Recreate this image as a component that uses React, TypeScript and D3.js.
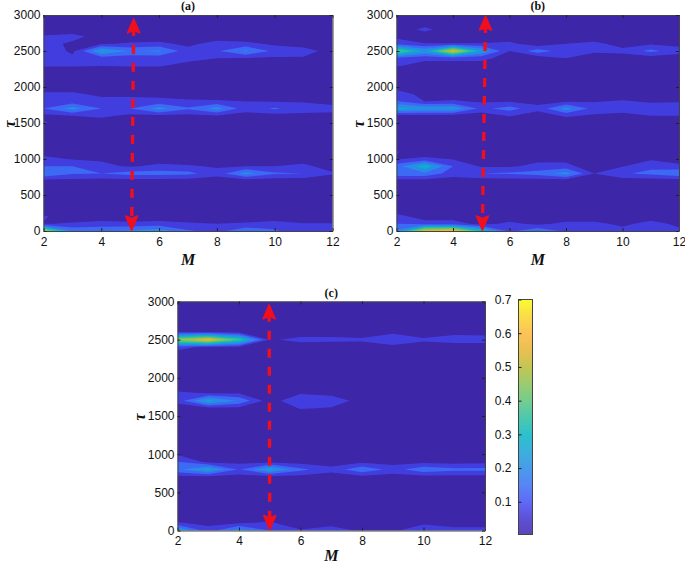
import { useEffect, useRef } from 'react'
import * as d3 from 'd3'

type Rows = Record<number, number[]>

const mValues = [2, 3, 4, 5, 6, 7, 8, 9, 10, 11, 12]
const tauGrid = d3.range(0, 3100, 100)
const xTicks = [2, 4, 6, 8, 10, 12]
const yTicks = [0, 500, 1000, 1500, 2000, 2500, 3000]
const barTicks = [0.1, 0.2, 0.3, 0.4, 0.5, 0.6, 0.7]
const levels = [0.07, 0.14, 0.21, 0.28, 0.35, 0.42, 0.49, 0.56, 0.63]
const baseValue = 0.02

// values per tau row, one for each M, rows not listed stay at baseValue
const rowsA: Rows = {
  2700: [0.08, 0.1, 0.03, 0.02, 0.02, 0.02, 0.03, 0.02, 0.02, 0.02, 0.02],
  2600: [0.11, 0.05, 0.06, 0.08, 0.09, 0.05, 0.1, 0.09, 0.055, 0.05, 0.03],
  2500: [0.14, 0.05, 0.29, 0.2, 0.22, 0.1, 0.13, 0.22, 0.12, 0.09, 0.05],
  2400: [0.09, 0.09, 0.1, 0.1, 0.09, 0.1, 0.07, 0.065, 0.06, 0.065, 0.02],
  2300: [0.08, 0.08, 0.075, 0.08, 0.08, 0.04, 0.02, 0.02, 0.02, 0.02, 0.02],
  1900: [0.09, 0.09, 0.05, 0.05, 0.05, 0.04, 0.03, 0.03, 0.03, 0.03, 0.02],
  1800: [0.1, 0.1, 0.1, 0.1, 0.09, 0.08, 0.08, 0.07, 0.065, 0.065, 0.05],
  1700: [0.14, 0.24, 0.14, 0.14, 0.24, 0.15, 0.24, 0.1, 0.15, 0.1, 0.09],
  1600: [0.05, 0.07, 0.09, 0.05, 0.05, 0.05, 0.06, 0.04, 0.04, 0.05, 0.05],
  1500: [0.08, 0.02, 0.02, 0.02, 0.02, 0.02, 0.02, 0.02, 0.02, 0.02, 0.02],
  1100: [0.04, 0.02, 0.02, 0.02, 0.02, 0.02, 0.02, 0.02, 0.02, 0.02, 0.02],
  1000: [0.09, 0.065, 0.06, 0.02, 0.03, 0.02, 0.02, 0.02, 0.02, 0.03, 0.01],
  900: [0.14, 0.14, 0.09, 0.06, 0.09, 0.08, 0.06, 0.07, 0.07, 0.09, 0.03],
  800: [0.22, 0.15, 0.14, 0.17, 0.17, 0.16, 0.1, 0.24, 0.15, 0.14, 0.08],
  700: [0.04, 0.045, 0.04, 0.04, 0.04, 0.04, 0.03, 0.03, 0.03, 0.03, 0.02],
  200: [0.08, 0.02, 0.02, 0.02, 0.02, 0.02, 0.02, 0.02, 0.02, 0.02, 0.02],
  100: [0.065, 0.08, 0.1, 0.09, 0.1, 0.08, 0.07, 0.08, 0.1, 0.075, 0.075],
  0: [0.55, 0.2, 0.2, 0.22, 0.25, 0.15, 0.11, 0.2, 0.15, 0.09, 0.09],
}

const rowsB: Rows = {
  2800: [0.02, 0.09, 0.02, 0.02, 0.02, 0.02, 0.02, 0.02, 0.02, 0.02, 0.02],
  2700: [0.05, 0.02, 0.02, 0.02, 0.02, 0.02, 0.02, 0.02, 0.02, 0.02, 0.02],
  2600: [0.12, 0.075, 0.075, 0.075, 0.09, 0.02, 0.07, 0.09, 0.04, 0.06, 0.05],
  2500: [0.45, 0.27, 0.6, 0.28, 0.07, 0.18, 0.1, 0.08, 0.09, 0.16, 0.1],
  2400: [0.12, 0.09, 0.09, 0.09, 0.04, 0.02, 0.07, 0.04, 0.03, 0.03, 0.03],
  2300: [0.08, 0.04, 0.04, 0.04, 0.02, 0.02, 0.02, 0.02, 0.02, 0.02, 0.02],
  2000: [0.05, 0.02, 0.02, 0.02, 0.02, 0.02, 0.02, 0.02, 0.02, 0.02, 0.02],
  1900: [0.1, 0.05, 0.03, 0.02, 0.02, 0.02, 0.02, 0.02, 0.02, 0.02, 0.02],
  1800: [0.15, 0.07, 0.08, 0.06, 0.065, 0.05, 0.06, 0.065, 0.08, 0.06, 0.065],
  1700: [0.3, 0.27, 0.27, 0.12, 0.17, 0.09, 0.24, 0.11, 0.11, 0.11, 0.11],
  1600: [0.04, 0.045, 0.04, 0.03, 0.075, 0.035, 0.08, 0.06, 0.04, 0.07, 0.07],
  1100: [0.075, 0.02, 0.02, 0.02, 0.02, 0.02, 0.02, 0.02, 0.02, 0.02, 0.02],
  1000: [0.065, 0.09, 0.065, 0.02, 0.02, 0.05, 0.05, 0.01, 0.02, 0.06, 0.03],
  900: [0.18, 0.33, 0.14, 0.06, 0.06, 0.09, 0.09, 0.03, 0.065, 0.12, 0.09],
  800: [0.2, 0.2, 0.1, 0.14, 0.15, 0.17, 0.24, 0.07, 0.13, 0.16, 0.2],
  700: [0.04, 0.04, 0.04, 0.035, 0.035, 0.035, 0.035, 0.02, 0.035, 0.035, 0.035],
  200: [0.1, 0.03, 0.03, 0.01, 0.02, 0.01, 0.02, 0.02, 0.01, 0.03, 0.01],
  100: [0.14, 0.11, 0.11, 0.04, 0.09, 0.05, 0.09, 0.09, 0.05, 0.1, 0.05],
  0: [0.22, 0.6, 0.65, 0.35, 0.12, 0.2, 0.12, 0.1, 0.1, 0.14, 0.09],
}

const rowsC: Rows = {
  2600: [0.065, 0.065, 0.05, 0.01, 0.03, 0.03, 0.02, 0.05, 0.02, 0.05, 0.045],
  2500: [0.5, 0.62, 0.4, 0.06, 0.09, 0.09, 0.085, 0.14, 0.085, 0.1, 0.1],
  2400: [0.1, 0.045, 0.045, 0.01, 0.03, 0.02, 0.02, 0.04, 0.02, 0.03, 0.03],
  1900: [0.03, 0.02, 0.02, 0.02, 0.02, 0.02, 0.02, 0.02, 0.02, 0.02, 0.02],
  1800: [0.08, 0.065, 0.065, 0.01, 0.06, 0.055, 0.01, 0.01, 0.01, 0.01, 0.01],
  1700: [0.1, 0.3, 0.2, 0.03, 0.14, 0.1, 0.05, 0.02, 0.02, 0.02, 0.02],
  1600: [0.02, 0.045, 0.05, 0.01, 0.075, 0.065, 0.01, 0.01, 0.01, 0.01, 0.01],
  1000: [0.06, 0.02, 0.02, 0.02, 0.02, 0.02, 0.02, 0.02, 0.02, 0.02, 0.02],
  900: [0.14, 0.05, 0.05, 0.05, 0.04, 0.04, 0.05, 0.04, 0.05, 0.04, 0.05],
  800: [0.2, 0.3, 0.13, 0.3, 0.16, 0.09, 0.2, 0.11, 0.19, 0.16, 0.16],
  700: [0.04, 0.04, 0.04, 0.03, 0.04, 0.04, 0.04, 0.04, 0.04, 0.04, 0.04],
  100: [0.075, 0.05, 0.06, 0.08, 0.01, 0.03, 0.01, 0.01, 0.05, 0.03, 0.03],
  0: [0.3, 0.1, 0.25, 0.14, 0.08, 0.12, 0.05, 0.05, 0.14, 0.1, 0.1],
}

// colormap, one stop every 0.05
const colorStops = ['#3e26a8', '#4232d0', '#4450f5', '#3a70f5', '#2a8ae8', '#1aa2d8', '#08b6c4', '#2dbfa0', '#5cc47c', '#88c458', '#b8bc34', '#e5b535', '#fdb83c', '#f8d52a', '#f9fb0e']
const colorOf = d3.scaleLinear<string>().domain(d3.range(0, 0.701, 0.05)).range(colorStops).interpolate(d3.interpolateRgb).clamp(true)

interface Panel {
  id: string
  title: string
  rows: Rows
  x: [number, number]
  y: [number, number]
  arrowM: [number, number]
  arrowTau: [number, number]
  labelY: number
  tauX: number
}

const panels: Panel[] = [
  { id: 'a', title: '(a)', rows: rowsA, x: [43.5, 332.5], y: [231, 15], arrowM: [5.12, 5.05], arrowTau: [2960, 0], labelY: 264.5, tauX: 14.5 },
  { id: 'b', title: '(b)', rows: rowsB, x: [396.5, 679], y: [231, 15], arrowM: [5.15, 5.04], arrowTau: [3000, 0], labelY: 264.5, tauX: 364 },
  { id: 'c', title: '(c)', rows: rowsC, x: [177.5, 485], y: [530.5, 301.5], arrowM: [4.98, 5], arrowTau: [2970, 0], labelY: 561, tauX: 145 },
]

const sans = '"Liberation Sans", Arial, sans-serif'
const serif = '"Liberation Serif", "Times New Roman", serif'

export default function App() {
  const svgRef = useRef<SVGSVGElement>(null)

  useEffect(() => {
    if (!svgRef.current) return
    const svg = d3.select(svgRef.current)
    svg.selectAll('*').remove()

    const defs = svg.append('defs')
    defs.append('filter').attr('id', 'soft').attr('x', '-5%').attr('y', '-5%').attr('width', '110%').attr('height', '110%')
      .append('feGaussianBlur').attr('stdDeviation', 0.6)

    panels.forEach(p => {
      const x = d3.scaleLinear().domain([2, 12]).range(p.x)
      const y = d3.scaleLinear().domain([0, 3000]).range(p.y)
      const g = svg.append('g')

      defs.append('clipPath').attr('id', `clip-${p.id}`)
        .append('rect').attr('x', p.x[0]).attr('y', p.y[1]).attr('width', p.x[1] - p.x[0]).attr('height', p.y[0] - p.y[1])

      // flat grid, tau rows going up
      const grid: number[] = []
      tauGrid.forEach(t => {
        mValues.forEach((_, i) => grid.push(p.rows[t] ? p.rows[t][i] : baseValue))
      })
      const contours = d3.contours().size([mValues.length, tauGrid.length]).thresholds(levels)(grid)
      const path = d3.geoPath(d3.geoTransform({
        point(cx, cy) {
          this.stream.point(x(2 + cx - 0.5), y((cy - 0.5) * 100))
        },
      }))

      const fills = g.append('g').attr('clip-path', `url(#clip-${p.id})`).append('g').attr('filter', 'url(#soft)')
      fills.append('rect')
        .attr('x', p.x[0] - 5).attr('y', p.y[1] - 5)
        .attr('width', p.x[1] - p.x[0] + 10).attr('height', p.y[0] - p.y[1] + 10)
        .attr('fill', colorOf(0))
      fills.selectAll('path').data(contours).join('path')
        .attr('d', d => path(d))
        .attr('fill', d => colorOf(d.value))

      // box with inward ticks on all sides
      const style = (ax: d3.Selection<SVGGElement, unknown, null, undefined>) => {
        ax.select('.domain').attr('stroke', '#444')
        ax.selectAll('line').attr('stroke', '#222')
        ax.selectAll('text').attr('fill', '#111').attr('font-size', '12px').attr('font-family', sans)
      }
      g.append('g').attr('transform', `translate(0,${p.y[0]})`)
        .call(d3.axisBottom(x).tickValues(xTicks).tickSizeInner(-3).tickSizeOuter(0).tickPadding(6).tickFormat(d3.format('d')))
        .call(style)
      g.append('g').attr('transform', `translate(${p.x[0]},0)`)
        .call(d3.axisLeft(y).tickValues(yTicks).tickSizeInner(-3).tickSizeOuter(0).tickPadding(3).tickFormat(d3.format('d')))
        .call(style)
      g.append('g').attr('transform', `translate(0,${p.y[1]})`)
        .call(d3.axisTop(x).tickValues(xTicks).tickSizeInner(-3).tickSizeOuter(0).tickFormat(() => ''))
        .call(style)
      g.append('g').attr('transform', `translate(${p.x[1]},0)`)
        .call(d3.axisRight(y).tickValues(yTicks).tickSizeInner(-3).tickSizeOuter(0).tickFormat(() => ''))
        .call(style)

      // red double arrow
      const top: [number, number] = [x(p.arrowM[0]), y(p.arrowTau[0])]
      const bottom: [number, number] = [x(p.arrowM[1]), y(p.arrowTau[1])]
      const arrow = g.append('g').attr('fill', '#f00f1e').attr('stroke', '#f00f1e')
      arrow.append('line')
        .attr('x1', top[0]).attr('y1', top[1] + 9).attr('x2', bottom[0]).attr('y2', bottom[1] - 4)
        .attr('stroke-width', 3.4).attr('stroke-dasharray', '9 9')
      const head = d3.line()
      arrow.append('path').attr('stroke-width', 1.6).attr('stroke-linejoin', 'round')
        .attr('d', head([[top[0], top[1] + 1], [top[0] + 6, top[1] + 15], [top[0], top[1] + 12.5], [top[0] - 6, top[1] + 15]]) + 'Z')
      arrow.append('path').attr('stroke-width', 1.6).attr('stroke-linejoin', 'round')
        .attr('d', head([[bottom[0], bottom[1] - 1], [bottom[0] + 6, bottom[1] - 15], [bottom[0], bottom[1] - 12.5], [bottom[0] - 6, bottom[1] - 15]]) + 'Z')

      const midX = (p.x[0] + p.x[1]) / 2
      g.append('text').attr('x', midX).attr('y', p.y[1] - 5)
        .attr('text-anchor', 'middle').attr('font-family', serif).attr('font-weight', 'bold').attr('font-size', '12px').attr('fill', '#111')
        .text(p.title)
      g.append('text').attr('x', midX).attr('y', p.labelY)
        .attr('text-anchor', 'middle').attr('font-family', serif).attr('font-weight', 'bold').attr('font-style', 'italic').attr('font-size', '16px').attr('fill', '#111')
        .text('M')
      g.append('text')
        .attr('transform', `translate(${p.tauX},${(p.y[0] + p.y[1]) / 2 + 1}) rotate(-90)`)
        .attr('text-anchor', 'middle').attr('font-family', serif).attr('font-weight', 'bold').attr('font-style', 'italic').attr('font-size', '16px').attr('fill', '#111')
        .text('τ')
    })

    // colorbar, labels on its left
    const barScale = d3.scaleLinear().domain([0.003, 0.7]).range([534.5, 299.5])
    const bar = svg.append('g')
    const [barBottom, barTop] = barScale.range()
    d3.range(barTop, barBottom, 1).forEach(py => {
      bar.append('rect').attr('x', 518.5).attr('y', py).attr('width', 14).attr('height', 1.2)
        .attr('fill', colorOf(barScale.invert(py)))
    })
    bar.append('rect').attr('x', 518.5).attr('y', barTop).attr('width', 14).attr('height', barBottom - barTop)
      .attr('fill', 'none').attr('stroke', '#444')
    bar.append('g').attr('transform', 'translate(518.5,0)')
      .call(d3.axisLeft(barScale).tickValues(barTicks).tickSizeInner(-3).tickSizeOuter(0).tickPadding(7).tickFormat(d3.format('.1f')))
      .call(ax => ax.select('.domain').remove())
      .call(ax => ax.selectAll('line').attr('stroke', '#222'))
      .call(ax => ax.selectAll('text').attr('fill', '#111').attr('font-size', '12px').attr('font-family', sans))
  }, [])

  return <svg ref={svgRef} width={685} height={564} style={{ position: 'absolute', left: 0, top: 0, background: '#fff' }} />
}
